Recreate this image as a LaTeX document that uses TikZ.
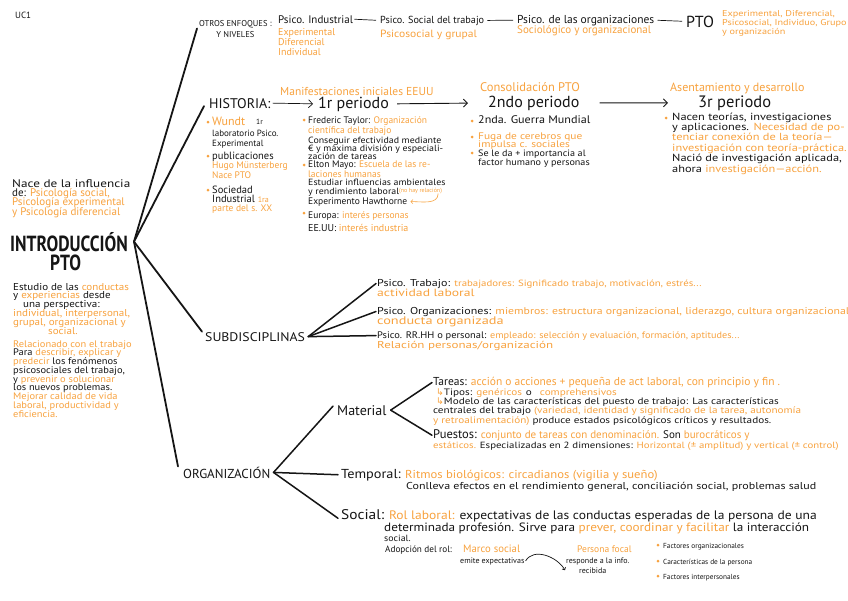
\documentclass[tikz,border=0pt]{standalone}
\usepackage{fontspec}
\setmainfont{PT Sans}
\newfontfamily\simb{DejaVu Sans}
% hand lettering is wider than the font: stretched cuts
\newfontfamily\anchaa[FakeStretch=1.1]{PT Sans}
\newfontfamily\anchab[FakeStretch=1.2]{PT Sans}
\newfontfamily\anchac[FakeStretch=1.3]{PT Sans}
\usepackage{xcolor}
\usepackage{tikz}
\usetikzlibrary{arrows.meta}
\definecolor{tinta}{HTML}{151515}
\definecolor{naranja}{HTML}{F8A23E}
\newcommand{\ora}[1]{\textcolor{naranja}{#1}}
\tikzset{
  texto/.style={inner sep=0pt, anchor=base west, align=left, text=tinta},
  tam/.style n args={3}{font=#3\fontsize{#1}{#2}\selectfont},
  titulo/.style={texto, font=\bfseries\fontsize{17.5}{17.5}\selectfont, yscale=1.25, transform shape},
  punto/.style={circle, fill=naranja, inner sep=0pt, minimum size=3pt},
  rama/.style={line width=1.8pt, tinta, line cap=round},
  subrama/.style={line width=1.5pt, tinta, line cap=round},
  enlace/.style={line width=0.7pt, tinta, shorten <=1pt, shorten >=4pt},
  flecha/.style={-{Straight Barb[length=4pt,width=8pt]}, line width=0.9pt, tinta},
  gancho/.style={-{Straight Barb[length=2pt,width=4pt]}, line width=0.6pt, naranja},
  curva/.style={-{Straight Barb[length=2pt,width=4pt]}, line width=0.7pt, tinta},
}

\begin{document}
\lineskiplimit=-50pt
\begin{tikzpicture}[x=1pt, y=-1pt]
  \fill[white] (0,0) rectangle (848,600);
  \useasboundingbox (0,0) rectangle (848,600);

  % (multi-line nodes sit on the baseline of their last line)
  \node[texto, tam={9}{9}{\rmfamily}] (uc) at (15,18) {UC1};

  % centro
  \node[titulo] (raiz) at (10,251) {INTRODUCCIÓN};
  \node[titulo] (pto) at (50,270) {PTO};
  \coordinate (nucleo) at ([xshift=6pt]raiz.east);

  \node[texto, tam={11}{9.3}{\rmfamily}] (nace) at (12,215) {{\anchab Nace de la influencia}\\de: \ora{Psicología social,}\\\ora{Psicología experimental}\\\ora{y Psicología diferencial}};
  \node[texto, tam={10}{8.8}{\anchaa}] (estudio) at (13,334) {Estudio de las \ora{conductas}\\y \ora{experiencias} desde\\\hspace*{10pt}una perspectiva:\\\ora{individual, interpersonal,}\\\ora{grupal, organizacional y}\\\hspace*{35pt}\ora{social.}};
  \node[texto, tam={9.5}{8.75}{\anchaa}] (relac) at (13,417) {\ora{Relacionado con el trabajo}\\Para \ora{describir, explicar y}\\\ora{predecir} los fenómenos\\psicosociales del trabajo,\\y \ora{prevenir o solucionar}\\los nuevos problemas.\\\ora{Mejorar calidad de vida}\\\ora{laboral, productividad y}\\\ora{eficiencia.}};

  % otros enfoques
  \node[texto, align=center, tam={8.5}{11}{\rmfamily}] (otros) at (199,37) {OTROS ENFOQUES :\\Y NIVELES};
  \node[texto, tam={11}{11}{\rmfamily}] (ind) at (278,23) {Psico. Industrial};
  \node[texto, tam={10}{10}{\rmfamily}, text=naranja] (indo) at (278,55) {Experimental\\Diferencial\\Individual};
  \node[texto, tam={10.2}{10.2}{\rmfamily}] (soc) at (380,23) {Psico. Social del trabajo};
  \node[texto, tam={10.5}{10.5}{\anchaa}, text=naranja] (soco) at (380,37) {Psicosocial y grupal};
  \node[texto, tam={11.5}{11.5}{\rmfamily}] (orgs) at (517,23) {Psico. de las organizaciones};
  \node[texto, tam={11}{11}{\rmfamily}, text=naranja] (orgso) at (517,33) {Sociológico y organizacional};
  \node[texto, tam={16}{16}{\rmfamily}] (ptoa) at (686,27) {PTO};
  \node[texto, tam={8.5}{8.6}{\anchab}, text=naranja] (ptoo) at (722,34) {Experimental, Diferencial,\\Psicosocial, Individuo, Grupo\\y organización};
  \draw[enlace] (ind.east) -- (soc.west);
  \draw[enlace, shorten <=3pt] (soc.east) -- (orgs.west);
  \draw[enlace, shorten <=3pt] (orgs.east) -- (ptoa.west);

  % historia
  \node[texto, tam={14}{14}{\rmfamily}] (hist) at (209,108) {HISTORIA:};
  \node[texto, tam={11.5}{11.5}{\rmfamily}, text=naranja] (manif) at (280,95) {Manifestaciones iniciales EEUU};
  \node[texto, tam={16}{16}{\rmfamily}] (per1) at (318,108) {1r periodo};
  \node[texto, tam={12.5}{12.5}{\rmfamily}, text=naranja] (consol) at (480,91) {Consolidación PTO};
  \node[texto, tam={12}{12}{\rmfamily}, text=naranja] (asent) at (670,91) {Asentamiento y desarrollo};
  \node[texto, tam={16}{16}{\rmfamily}] (per2) at (488,107) {2ndo periodo};
  \node[texto, tam={16.5}{16.5}{\rmfamily}] (per3) at (698,107) {3r periodo};
  \draw[flecha, line width=0.7pt, shorten <=2pt, shorten >=5pt] (hist.east) -- (per1.west);
  \draw[flecha, shorten <=8pt, shorten >=20pt] (per1.east) -- (per2.west);
  \draw[flecha, shorten <=20pt, shorten >=30pt] (per2.east) -- (per3.west);

  \node[punto] (d1) at (208,122) {};
  \node[texto, tam={12}{12}{\rmfamily}, text=naranja] (wundt) at (212,125) {Wundt};
  \node[texto, tam={7.5}{7.5}{\rmfamily}] (wundtb) at (256,124) {1r};
  \node[texto, tam={9}{10}{\rmfamily}] (lab) at (212,146) {laboratorio Psico.\\Experimental};
  \node[punto] (d2) at (208,156) {};
  \node[texto, tam={10.5}{10.5}{\rmfamily}] (pub) at (212,159) {publicaciones};
  \node[texto, tam={9.5}{10.5}{\rmfamily}, text=naranja] (hugo) at (212,178.5) {Hugo Münsterberg\\Nace PTO};
  \node[punto] (d3) at (208,190) {};
  \node[texto, tam={10.5}{9}{\rmfamily}] (indus) at (212,202) {Sociedad\\Industrial {\fontsize{8}{9}\selectfont\ora{1ra}}};
  \node[texto, tam={9.5}{9.5}{\rmfamily}, text=naranja] (siglo) at (212,211) {parte del s. XX};

  \node[punto] (d4) at (304,120) {};
  \node[texto, tam={9.5}{10.5}{\rmfamily}] (taylor) at (308,133.5) {Frederic Taylor: \ora{Organización}\\\ora{científica del trabajo}};
  \node[texto, tam={9}{8}{\anchaa}] (consig) at (308,159) {Conseguir efectividad mediante\\€ y máxima división y especiali-\\zación de tareas};
  \node[punto] (d5) at (304,165) {};
  \node[texto, tam={9.5}{10}{\rmfamily}] (mayo) at (308,177) {Elton Mayo: \ora{Escuela de las re-}\\\ora{laciones humanas}};
  \node[texto, tam={9}{9.5}{\anchaa}] (estud) at (308,194.5) {Estudiar influencias ambientales\\y rendimiento laboral};
  \node[texto, tam={6}{6}{\rmfamily}, text=naranja] (nohay) at (399,192) {(no hay relación)};
  \node[texto, tam={9.5}{9.5}{\rmfamily}] (hawth) at (308,204) {Experimento Hawthorne};
  \draw[gancho] ([xshift=-4pt]nohay.south east) to[out=-90, in=0] ([xshift=3pt]hawth.east);
  \node[punto] (d6) at (304,213) {};
  \node[texto, tam={9.5}{9.5}{\rmfamily}] (europa) at (308,218) {Europa: \ora{interés personas}};
  \node[texto, tam={10}{10}{\rmfamily}] (eeuu) at (308,231) {EE.UU: \ora{interés industria}};

  \node[punto] (d7) at (472,121) {};
  \node[texto, tam={11}{11}{\anchaa}] (guerra) at (478,123) {2nda. Guerra Mundial};
  \node[punto] (d8) at (472,137) {};
  \node[texto, tam={9.5}{8}{\anchab}, text=naranja] (fuga) at (478,147) {Fuga de cerebros que\\impulsa c. sociales};
  \node[punto] (d9) at (472,153) {};
  \node[texto, tam={9.2}{9}{\anchaa}] (factor) at (478,165) {Se le da + importancia al\\factor humano y personas};

  \node[punto] (d10) at (666,118) {};
  \node[texto, tam={10.3}{10.4}{\anchab}] (nacen) at (672,172) {Nacen teorías, investigaciones\\y aplicaciones. \ora{Necesidad de po-}\\\ora{tenciar conexión de la teoría—}\\\ora{investigación con teoría-práctica.}\\Nació de investigación aplicada,\\ahora \ora{investigación—acción.}};

  % subdisciplinas
  \node[texto, tam={12.5}{12.5}{\anchaa}] (subdis) at (205,341) {SUBDISCIPLINAS};
  \coordinate (nsub) at ([xshift=3pt]subdis.east);
  \node[texto, tam={10}{10}{\anchab}] (trab) at (377,286) {Psico. Trabajo: {\fontsize{9}{9}\selectfont\ora{trabajadores: Significado trabajo, motivación, estrés...}}};
  \node[texto, tam={10.5}{10.5}{\anchac}, text=naranja] (trabb) at (377,296) {actividad laboral};
  \node[texto, tam={10}{10}{\anchab}] (orgz) at (377,314) {Psico. Organizaciones: {\fontsize{9.8}{9.8}\selectfont\ora{miembros: estructura organizacional, liderazgo, cultura organizacional}}};
  \node[texto, tam={11}{11}{\anchac}, text=naranja] (orgzb) at (377,324) {conducta organizada};
  \node[texto, tam={9.5}{9.5}{\anchaa}] (rrhh) at (377,338) {Psico. RR.HH o personal: {\fontsize{9.3}{9.3}\selectfont\ora{empleado: selección y evaluación, formación, aptitudes...}}};
  \node[texto, tam={10}{10}{\anchac}, text=naranja] (rrhhb) at (377,348) {Relación personas/organización};
  \draw[subrama] (nsub) -- ([xshift=-1pt]trab.west);
  \draw[subrama] (nsub) -- ([xshift=-1pt]orgz.west);
  \draw[subrama] (nsub) -- ([xshift=-1pt]rrhh.west);

  % organizacion
  \node[texto, tam={13}{13}{\rmfamily}] (org) at (183,478) {ORGANIZACIÓN};
  \coordinate (norg) at ([xshift=3pt]org.east);
  \node[texto, tam={14}{14}{\rmfamily}] (mat) at (337,415) {Material};
  \coordinate (nmat) at ([xshift=4pt]mat.east);
  \node[texto, tam={11.5}{11.5}{\rmfamily}] (tareas) at (433,385.5) {Tareas: \ora{acción o acciones + pequeña de act laboral, con principio y fin .}};
  \node[texto, tam={9.3}{9.3}{\anchab}] (modelo) at (433,423) {\hspace*{3pt}{\simb\ora{↳}}Tipos: \ora{genéricos}\hspace{4pt}o\hspace{8pt}\ora{comprehensivos}\\\hspace*{3pt}{\simb\ora{↳}}Modelo de las características del puesto de trabajo: Las características\\centrales del trabajo \ora{(variedad, identidad y significado de la tarea, autonomía}\\\ora{y retroalimentación)} produce estados psicológicos críticos y resultados.};
  \node[texto, tam={11}{11}{\rmfamily}] (puestos) at (433,438.5) {{\fontsize{12.5}{12.5}\selectfont Puestos:} \ora{conjunto de tareas con denominación.} Son \ora{burocráticos y}};
  \node[texto, tam={9}{9}{\anchab}] (puestosb) at (433,448) {\ora{estáticos.} Especializadas en 2 dimensiones: \ora{Horizontal (± amplitud) y vertical (± control)}};
  \draw[subrama] (nmat) -- ([xshift=-1pt]tareas.west);
  \draw[subrama] (nmat) -- ([xshift=-1pt]puestos.west);

  \node[texto, tam={11}{11}{\anchaa}] (temp) at (341,478) {{\fontsize{13}{13}\selectfont Temporal:} \ora{\fontsize{11.5}{11.5}\selectfont Ritmos biológicos: circadianos (vigilia y sueño)}};
  \node[texto, tam={10}{10}{\anchab}] (conlleva) at (406,489) {Conlleva efectos en el rendimiento general, conciliación social, problemas salud};

  \node[texto, tam={12.3}{12.3}{\anchaa}] (social) at (341,519) {{\fontsize{14}{14}\selectfont Social:} \ora{Rol laboral:} expectativas de las conductas esperadas de la persona de una};
  \node[texto, tam={12}{10}{\anchaa}] (determ) at (384,541) {determinada profesión. Sirve para \ora{prever, coordinar y facilitar} la interacción\\{\fontsize{9}{10}\selectfont social.}};
  \node[texto, tam={9.2}{9.2}{\rmfamily}] (adop) at (385,552) {Adopción del rol:};
  \node[texto, tam={10.7}{10.7}{\rmfamily}, text=naranja] (marco) at (463,552) {Marco social};
  \node[texto, tam={8}{8}{\rmfamily}] (emite) at (460,563) {emite expectativas};
  \node[texto, tam={9.5}{9.5}{\rmfamily}, text=naranja] (focal) at (577,552) {Persona focal};
  \node[texto, tam={8}{10}{\rmfamily}] (resp) at (566,573) {responde a la info.\\\hspace*{13pt}recibida};
  \draw[curva] ([xshift=1pt]emite.east) to[out=60, in=120] ([shift={(-1pt,-5pt)}]resp.west);

  \node[punto] (d11) at (658,545) {};
  \node[texto, tam={7.3}{7.3}{\rmfamily}] (f1) at (663,548) {Factores organizacionales};
  \node[punto] (d12) at (658,561) {};
  \node[texto, tam={7.3}{7.3}{\rmfamily}] (f2) at (663,564) {Características de la persona};
  \node[punto] (d13) at (658,576) {};
  \node[texto, tam={7.3}{7.3}{\rmfamily}] (f3) at (663,579) {Factores interpersonales};

  \draw[subrama] (norg) -- ([shift={(-4pt,4pt)}]mat.west);
  \draw[subrama] (norg) -- ([xshift=-3pt]temp.west);
  \draw[subrama] (norg) -- ([shift={(-3pt,-3pt)}]social.west);

  % ramas principales
  \draw[rama] (nucleo) -- ([xshift=-2pt]otros.west);
  \draw[rama] (nucleo) -- ([shift={(-5pt,-3pt)}]hist.west);
  \draw[rama] (nucleo) -- ([shift={(-3pt,5pt)}]subdis.west);
  \draw[rama] (nucleo) -- ([shift={(-5pt,6pt)}]org.west);
\end{tikzpicture}
\end{document}
